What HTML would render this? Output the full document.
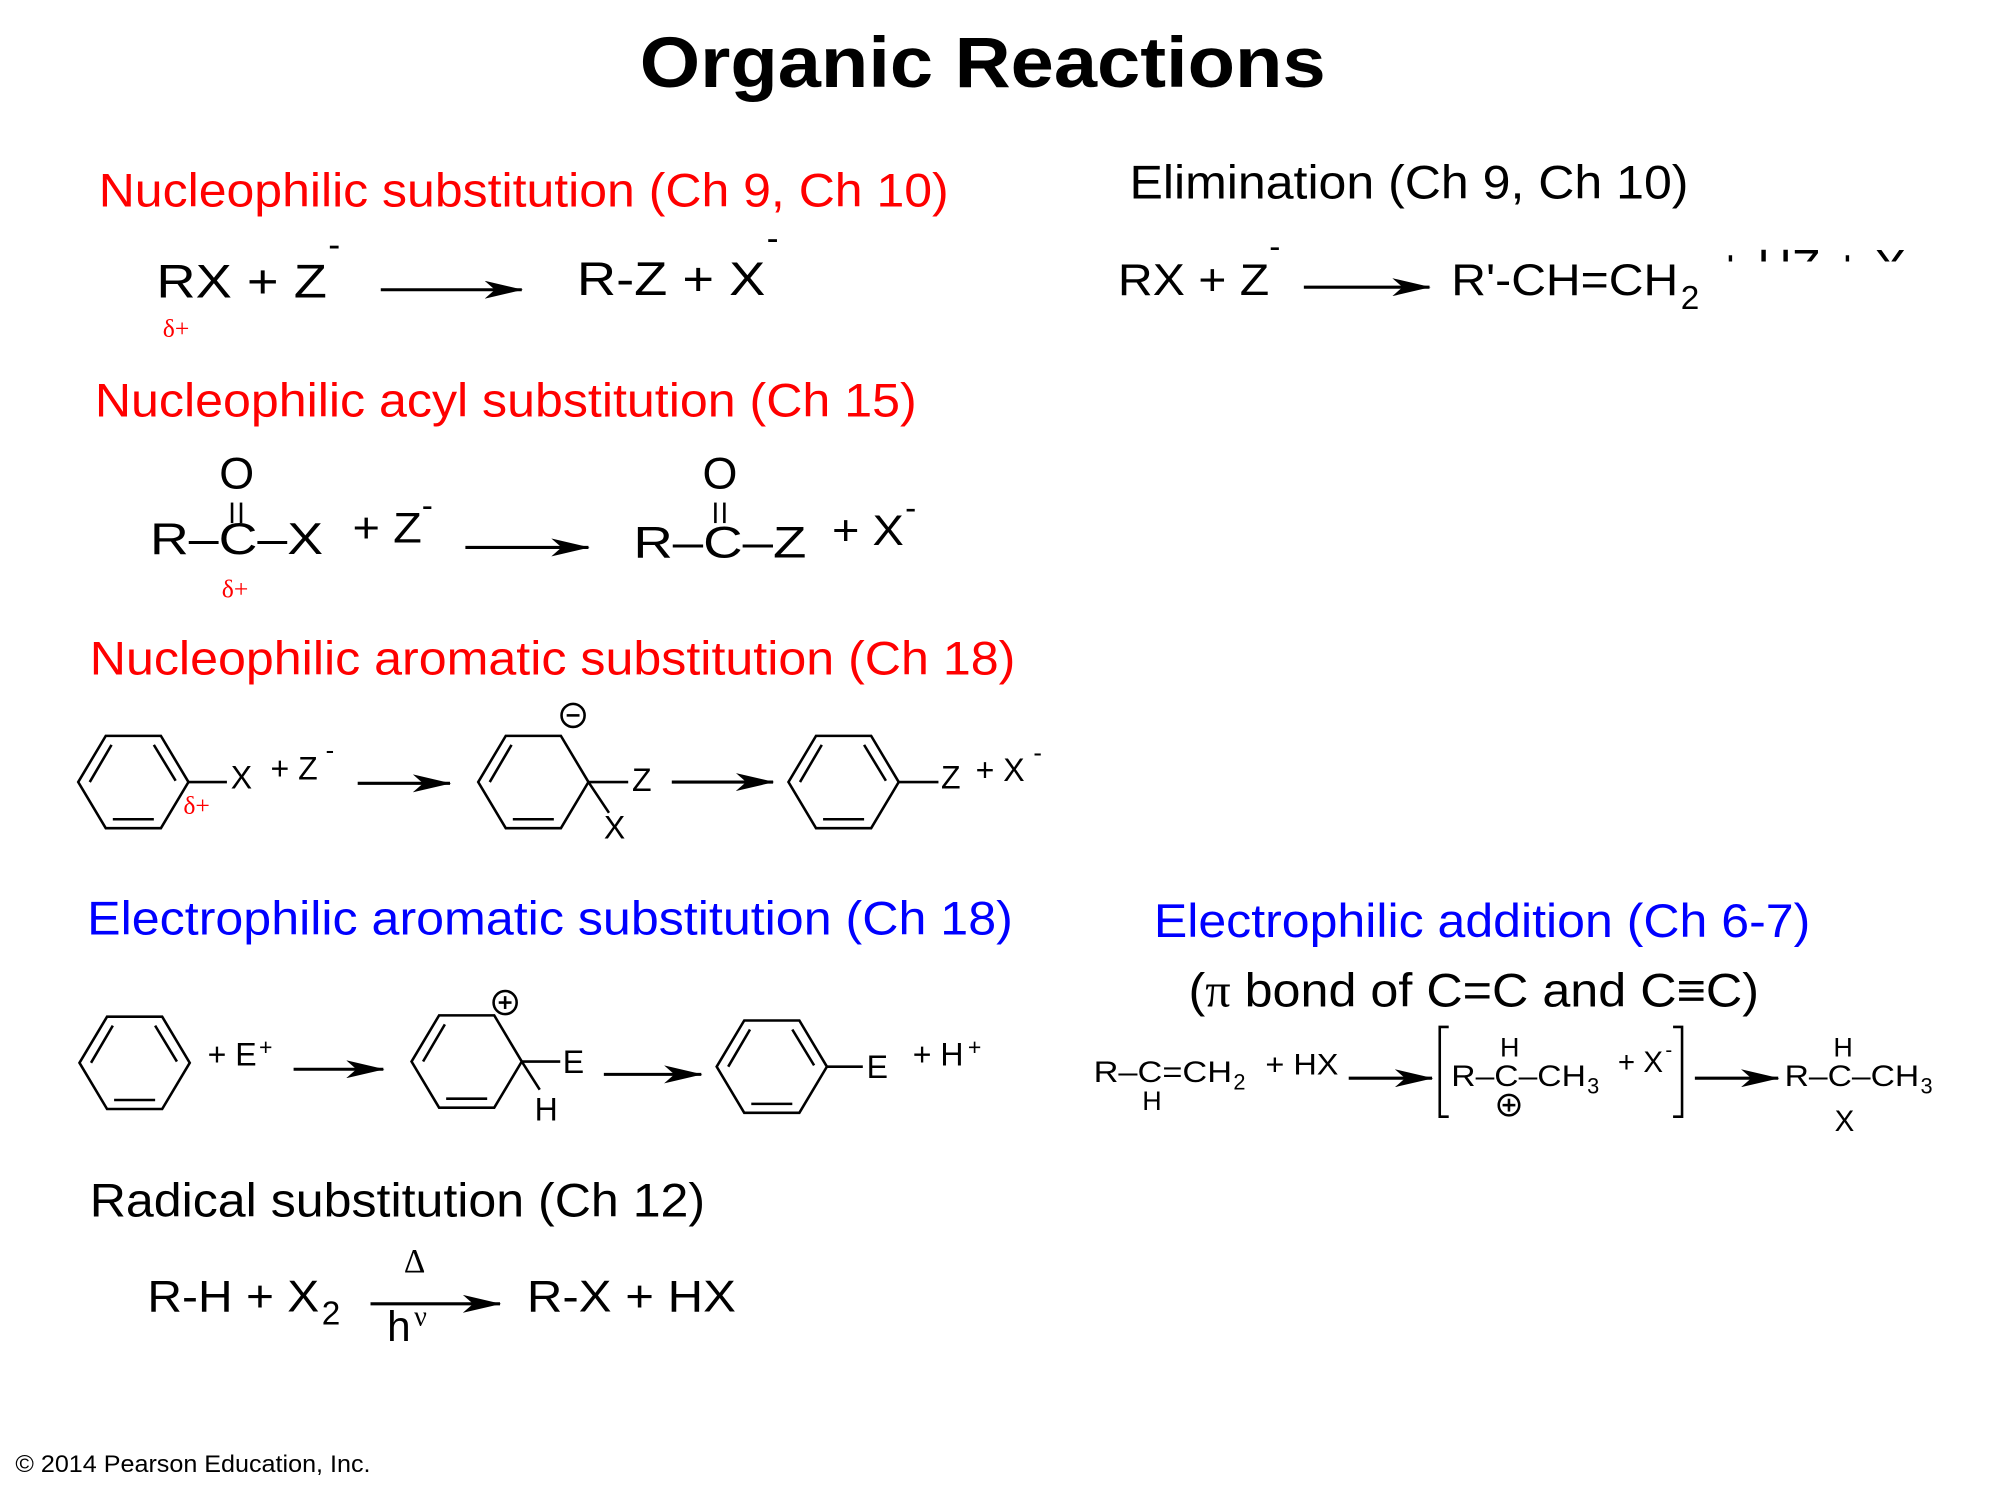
<!DOCTYPE html>
<html><head><meta charset="utf-8"><style>
html,body{margin:0;padding:0;background:#fff;}
svg{display:block}
text{font-family:"Liberation Sans",Arial,sans-serif;}
.r{fill:#f00}.b{fill:#00f}
.s{font-family:"Liberation Serif",serif;}
</style></head><body>
<svg width="2000" height="1500" viewBox="3 2 1560 1170" xmlns="http://www.w3.org/2000/svg">
<defs>
<marker id="ah2" markerWidth="30" markerHeight="14" refX="29" refY="7" orient="auto" markerUnits="userSpaceOnUse">
<path d="M0,0 L30,7 L0,14 L8,7z" fill="#000"/></marker>
<clipPath id="cl"><rect x="1330" y="170" width="200" height="36"/></clipPath>
</defs>
<g stroke="#000" stroke-width="2.4" fill="none">
<line x1="300" y1="228" x2="410" y2="228" marker-end="url(#ah2)"/>
<line x1="1020" y1="226" x2="1118" y2="226" marker-end="url(#ah2)"/>
<line x1="366" y1="429" x2="462" y2="429" marker-end="url(#ah2)"/>
<line x1="282" y1="613" x2="354" y2="613" marker-end="url(#ah2)"/>
<line x1="527" y1="612" x2="606" y2="612" marker-end="url(#ah2)"/>
<line x1="232" y1="836" x2="302" y2="836" marker-end="url(#ah2)"/>
<line x1="474" y1="840" x2="550" y2="840" marker-end="url(#ah2)"/>
<line x1="1055" y1="843" x2="1120" y2="843" marker-end="url(#ah2)"/>
<line x1="1325" y1="843" x2="1390" y2="843" marker-end="url(#ah2)"/>
<line x1="292" y1="1019" x2="393" y2="1019" marker-end="url(#ah2)"/>
</g>
<g stroke="#000" stroke-width="2" fill="none">
<line x1="184" y1="394" x2="184" y2="410"/><line x1="191" y1="394" x2="191" y2="410"/>
<line x1="561" y1="394" x2="561" y2="410"/><line x1="568" y1="394" x2="568" y2="410"/>
<g transform="translate(107,612)"><polygon points="-43,0 -21.5,-36 21.5,-36 43,0 21.5,36 -21.5,36"/>
<line x1="-34" y1="0" x2="-17" y2="-29"/><line x1="16" y1="-29" x2="33" y2="-1"/><line x1="-16" y1="29" x2="16" y2="29"/></g>
<line x1="150" y1="612" x2="180" y2="612"/>
<g transform="translate(419,612)"><polygon points="-43,0 -21.5,-36 21.5,-36 43,0 21.5,36 -21.5,36"/>
<line x1="-34" y1="0" x2="-17" y2="-29"/><line x1="-16" y1="29" x2="16" y2="29"/></g>
<line x1="462" y1="612" x2="493" y2="612"/><line x1="462" y1="612" x2="478" y2="636"/>
<circle cx="450" cy="560" r="9"/><line x1="445" y1="560" x2="455" y2="560"/>
<g transform="translate(661,612)"><polygon points="-43,0 -21.5,-36 21.5,-36 43,0 21.5,36 -21.5,36"/>
<line x1="-34" y1="0" x2="-17" y2="-29"/><line x1="16" y1="-29" x2="33" y2="-1"/><line x1="-16" y1="29" x2="16" y2="29"/></g>
<line x1="704" y1="612" x2="735" y2="612"/>
<g transform="translate(108,831)"><polygon points="-43,0 -21.5,-36 21.5,-36 43,0 21.5,36 -21.5,36"/>
<line x1="-34" y1="0" x2="-17" y2="-29"/><line x1="16" y1="-29" x2="33" y2="-1"/><line x1="-16" y1="29" x2="16" y2="29"/></g>
<g transform="translate(367,830)"><polygon points="-43,0 -21.5,-36 21.5,-36 43,0 21.5,36 -21.5,36"/>
<line x1="-34" y1="0" x2="-17" y2="-29"/><line x1="-16" y1="29" x2="16" y2="29"/></g>
<line x1="410" y1="830" x2="440" y2="830"/><line x1="410" y1="830" x2="424" y2="852"/>
<circle cx="397" cy="784" r="9"/><line x1="392" y1="784" x2="402" y2="784"/><line x1="397" y1="779" x2="397" y2="789"/>
<g transform="translate(605,834)"><polygon points="-43,0 -21.5,-36 21.5,-36 43,0 21.5,36 -21.5,36"/>
<line x1="-34" y1="0" x2="-17" y2="-29"/><line x1="16" y1="-29" x2="33" y2="-1"/><line x1="-16" y1="29" x2="16" y2="29"/></g>
<line x1="648" y1="834" x2="676" y2="834"/>
<polyline points="1133,803 1126,803 1126,873 1133,873"/>
<polyline points="1308,803 1315,803 1315,873 1308,873"/>
<circle cx="1180" cy="864" r="8"/><line x1="1175" y1="864" x2="1185" y2="864"/><line x1="1180" y1="859" x2="1180" y2="869"/>
</g>
<text x="502" y="70" font-size="56" font-weight="bold" textLength="535" lengthAdjust="spacingAndGlyphs">Organic Reactions</text>
<text x="80" y="163" font-size="37" class="r" textLength="663" lengthAdjust="spacingAndGlyphs">Nucleophilic substitution (Ch 9, Ch 10)</text>
<text x="125" y="234" font-size="37" textLength="133" lengthAdjust="spacingAndGlyphs">RX + Z</text><text x="259" y="202" font-size="28">-</text>
<text x="130" y="265" font-size="20" class="r s">δ+</text>
<text x="453" y="232" font-size="37" textLength="147" lengthAdjust="spacingAndGlyphs">R-Z + X</text><text x="601" y="197" font-size="28">-</text>
<text x="884" y="157" font-size="37" textLength="436" lengthAdjust="spacingAndGlyphs">Elimination (Ch 9, Ch 10)</text>
<text x="875" y="232" font-size="35" textLength="118" lengthAdjust="spacingAndGlyphs">RX + Z</text><text x="993" y="203" font-size="26">-</text>
<text x="1135" y="232" font-size="35" textLength="177" lengthAdjust="spacingAndGlyphs">R'-CH=CH</text><text x="1314" y="243" font-size="26">2</text>
<text x="1342" y="222" font-size="36" clip-path="url(#cl)" textLength="160" lengthAdjust="spacingAndGlyphs">+ HZ + X-</text>
<text x="77" y="327" font-size="37" class="r" textLength="641" lengthAdjust="spacingAndGlyphs">Nucleophilic acyl substitution (Ch 15)</text>
<text x="174" y="383" font-size="35">O</text>
<text x="120" y="434" font-size="35" textLength="135" lengthAdjust="spacingAndGlyphs">R–C–X</text>
<text x="278" y="425" font-size="33" textLength="54" lengthAdjust="spacingAndGlyphs">+ Z</text><text x="332" y="405" font-size="26">-</text>
<text x="176" y="468" font-size="20" class="r s">δ+</text>
<text x="551" y="383" font-size="35">O</text>
<text x="497" y="437" font-size="35" textLength="135" lengthAdjust="spacingAndGlyphs">R–C–Z</text>
<text x="652" y="427" font-size="33" textLength="56" lengthAdjust="spacingAndGlyphs">+ X</text><text x="709" y="407" font-size="26">-</text>
<text x="73" y="528" font-size="37" class="r" textLength="722" lengthAdjust="spacingAndGlyphs">Nucleophilic aromatic substitution (Ch 18)</text>
<text x="183" y="617" font-size="25">X</text><text x="214" y="610" font-size="25">+ Z</text><text x="257" y="594" font-size="20">-</text>
<text x="146" y="637" font-size="20" class="r s">δ+</text>
<text x="496" y="619" font-size="25">Z</text><text x="474" y="656" font-size="25">X</text>
<text x="737" y="617" font-size="25">Z</text><text x="764" y="611" font-size="25">+ X</text><text x="809" y="596" font-size="20">-</text>
<text x="71" y="731" font-size="37" class="b" textLength="722" lengthAdjust="spacingAndGlyphs">Electrophilic aromatic substitution (Ch 18)</text>
<text x="165" y="833" font-size="25">+ E</text><text x="205" y="825" font-size="18">+</text>
<text x="442" y="839" font-size="25">E</text><text x="420" y="876" font-size="25">H</text>
<text x="679" y="843" font-size="25">E</text><text x="715" y="833" font-size="25">+ H</text><text x="758" y="825" font-size="18">+</text>
<text x="903" y="733" font-size="37" class="b" textLength="512" lengthAdjust="spacingAndGlyphs">Electrophilic addition (Ch 6-7)</text>
<text x="930" y="787" font-size="37" textLength="445" lengthAdjust="spacingAndGlyphs">(<tspan class="s">π</tspan> bond of C=C and C≡C)</text>
<text x="856" y="846" font-size="23" textLength="108" lengthAdjust="spacingAndGlyphs">R–C=CH</text><text x="965" y="852" font-size="17">2</text>
<text x="894" y="868" font-size="21">H</text>
<text x="990" y="840" font-size="23" textLength="57" lengthAdjust="spacingAndGlyphs">+ HX</text>
<text x="1173" y="826" font-size="21">H</text>
<text x="1135" y="849" font-size="23" textLength="105" lengthAdjust="spacingAndGlyphs">R–C–CH</text><text x="1241" y="855" font-size="17">3</text>
<text x="1265" y="838" font-size="23">+ X</text><text x="1302" y="826" font-size="16">-</text>
<text x="1433" y="826" font-size="21">H</text>
<text x="1395" y="849" font-size="23" textLength="105" lengthAdjust="spacingAndGlyphs">R–C–CH</text><text x="1501" y="855" font-size="17">3</text>
<text x="1434" y="884" font-size="23">X</text>
<text x="73" y="951" font-size="37" textLength="480" lengthAdjust="spacingAndGlyphs">Radical substitution (Ch 12)</text>
<text x="118" y="1025" font-size="35" textLength="134" lengthAdjust="spacingAndGlyphs">R-H + X</text><text x="254" y="1035" font-size="26">2</text>
<text x="318" y="994" font-size="26" class="s">Δ</text>
<text x="305" y="1048" font-size="33">h</text><text x="326" y="1036" font-size="22" class="s">ν</text>
<text x="414" y="1025" font-size="35" textLength="163" lengthAdjust="spacingAndGlyphs">R-X + HX</text>
<text x="15" y="1150" font-size="19" textLength="277" lengthAdjust="spacingAndGlyphs">© 2014 Pearson Education, Inc.</text>
</svg>
</body></html>
